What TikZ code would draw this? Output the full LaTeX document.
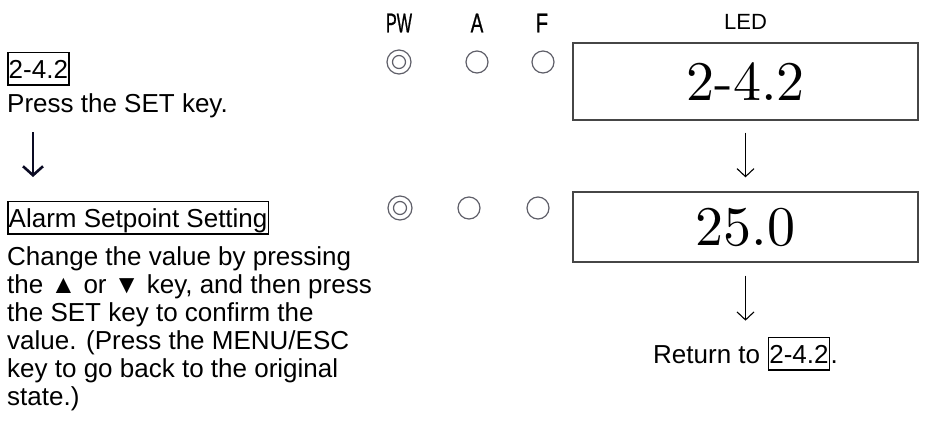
\documentclass[tikz,border=0pt]{standalone}
\usepackage{fontspec}
\newfontfamily\arialfont{Liberation Sans}
\newfontfamily\indfont{Liberation Sans}[FakeBold=1]
\newfontfamily\lmten{lmroman10-regular.otf}
\usetikzlibrary{arrows.meta,calc}
\definecolor{ledgray}{RGB}{70,70,70}
\definecolor{indgray}{RGB}{95,95,105}
\definecolor{arrdark}{RGB}{10,10,35}
\begin{document}
\begin{tikzpicture}[x=1pt,y=-1pt,
  txt/.style={font=\arialfont\fontsize{26}{28}\selectfont, inner sep=0pt, anchor=base west},
  boxed/.style={txt, draw, line width=1.5pt, inner sep=1pt, text height=24.5pt, text depth=6pt},
  ledbox/.style={draw=ledgray, line width=1.3pt, minimum width=345pt, inner sep=0pt, font=\lmten\fontsize{56}{60}\selectfont},
  ledlabel/.style={font=\arialfont\fontsize{22}{24}\selectfont, inner sep=0pt},
  indlabel/.style={font=\indfont\fontsize{27}{29}\selectfont, inner sep=0pt},
  ind/.style={draw=indgray, line width=1.2pt},
  arrR/.style={draw=black, line width=1.1pt, -{Straight Barb[length=8pt,width=17pt,line width=1.1pt]}},
  arrL/.style={draw=arrdark, line width=2.6pt, -{Straight Barb[length=9pt,width=20pt,line width=2.6pt]}}
]
\useasboundingbox (0,0) rectangle (932,424);

% left column text
\node[boxed] (sec) at (7,78) {2-4.2};
\node[txt] (press) at (7,112) {Press the SET key.};
\coordinate (la1) at (33,132);
\coordinate (la2) at (33,177);
\draw[arrL] (la1) -- (la2);

\node[boxed] (alarm) at (7,227) {Alarm Setpoint Setting};
\node[txt] (l1) at (7,265) {Change the value by pressing};
\node[txt] (l2) at (7,293) {the ▲ or ▼ key, and then press};
\node[txt] (l3) at (7,321) {the SET key to confirm the};
\node[txt] (l4) at (7,349) {value. (Press the MENU/ESC};
\node[txt] (l5) at (7,377) {key to go back to the original};
\node[txt] (l6) at (7,405) {state.)};

% indicator labels
\node[indlabel] (pw) at (399,23) {\scalebox{0.6}[1]{PW}};
\node[indlabel] (a) at (477,23) {\scalebox{0.7}[1]{A}};
\node[indlabel] (f) at (542,23) {\scalebox{0.75}[1]{F}};
\node[ledlabel] (led) at (745.5,22) {LED};

% indicators row 1
\draw[ind] (399,62) circle (12);
\draw[ind] (399,62) circle (6.5);
\draw[ind] (477,62) circle (11);
\draw[ind] (543,62) circle (11);
% indicators row 2
\draw[ind] (400,208) circle (12);
\draw[ind] (400,208) circle (6.5);
\draw[ind] (469,208) circle (11);
\draw[ind] (538,208) circle (11);

% LED boxes
\node[ledbox, minimum height=77pt] (led1) at (745.5,81.5) {2-4.2};
\node[ledbox, minimum height=70pt] (led2) at (745.5,227) {25.0};
\draw[arrR, shorten <=12pt, shorten >=14pt] (led1) -- (led2);

\node[txt] (ret) at (653,363) {Return to};
\node[boxed] (retbox) at ($(ret.base east)+(7.2,0)$) {2-4.2};
\node[txt] (dot) at (retbox.base east) {.};
\coordinate (ra1) at ($(led2.south)+(0,13)$);
\coordinate (ra2) at ($(led2.south)+(0,58)$);
\draw[arrR] (ra1) -- (ra2);
\end{tikzpicture}
\end{document}
